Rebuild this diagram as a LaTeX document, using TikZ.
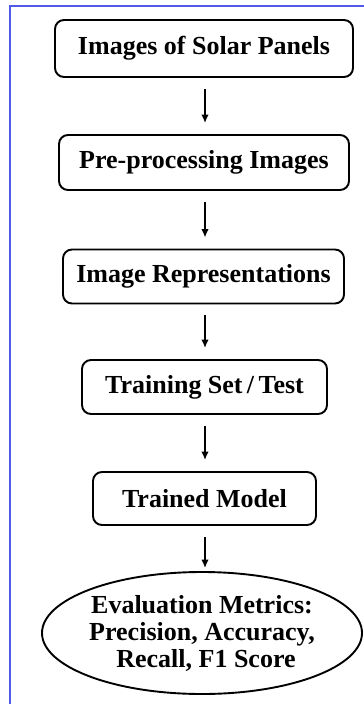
\documentclass[tikz,border=0pt]{standalone}
\usepackage{fontspec}
\setmainfont{Liberation Serif}
\usetikzlibrary{shapes.geometric,arrows.meta}
\definecolor{frameblue}{RGB}{80,90,230}
\begin{document}
\begin{tikzpicture}[x=1pt,y=-1pt,
  stepbox/.style={draw, line width=1.9pt, rounded corners=9pt, font=\bfseries\fontsize{26}{28}\selectfont, inner sep=0pt, align=center},
  flow/.style={-{Latex[length=8.5pt,width=7.5pt]}, line width=1.6pt, shorten >=11pt, shorten <=11pt},
]
\useasboundingbox (0,0) rectangle (364,704);
\draw[frameblue, line width=2.2pt] (10,704) -- (10,6) -- (364,6);
\node[stepbox, minimum width=298pt, minimum height=57pt] (a) at (204,48.5) {Images of Solar Panels};
\node[stepbox, minimum width=290pt, minimum height=55pt] (b) at (204,162.5) {Pre-processing Images};
\node[stepbox, minimum width=281pt, minimum height=54pt] (c) at (203.5,276.5) {Image Representations};
\node[stepbox, minimum width=245pt, minimum height=54pt] (d) at (204.5,387) {Training Set\,/\,Test};
\node[stepbox, minimum width=223pt, minimum height=53pt] (e) at (204.5,498.5) {Trained Model};
\node[draw, ellipse, line width=1.9pt, minimum width=320pt, minimum height=122pt, inner sep=0pt,
  font=\bfseries\fontsize{26}{27}\selectfont, align=center] (f) at (202,633) {Evaluation Metrics:\\Precision, Accuracy,\hspace*{22pt}\\\hspace*{8pt}Recall, F1 Score};
\draw[flow] (a.south -| 205,0) -- (b.north -| 205,0);
\draw[flow] (b.south -| 205,0) -- (c.north -| 205,0);
\draw[flow] (c.south -| 205,0) -- (d.north -| 205,0);
\draw[flow] (d.south -| 205,0) -- (e.north -| 205,0);
\draw[flow, shorten >=3pt] (e.south -| 205,0) -- (f.north -| 205,0);
\end{tikzpicture}
\end{document}
